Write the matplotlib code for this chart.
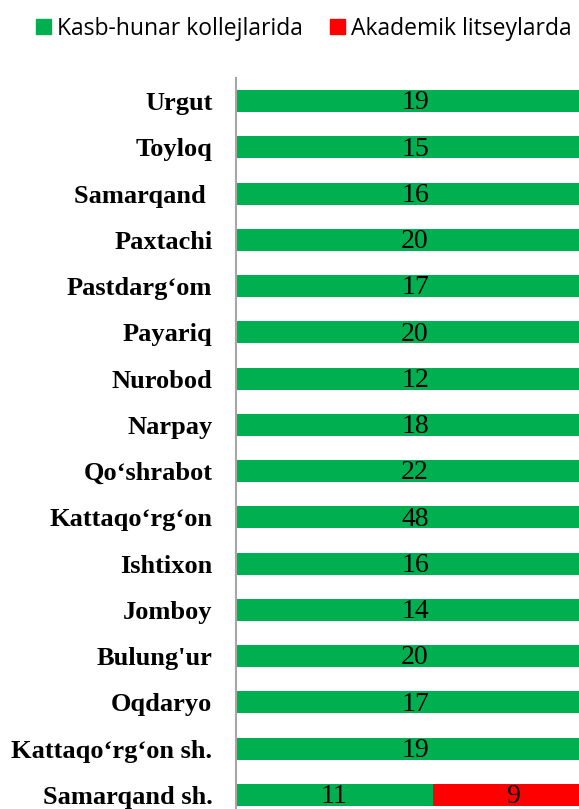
import matplotlib
matplotlib.use("Agg")
import matplotlib.pyplot as plt
from matplotlib.patches import Patch

# Data (top to bottom)
districts = ["Urgut", "Toyloq", "Samarqand ", "Paxtachi", "Pastdarg‘om", "Payariq",
             "Nurobod", "Narpay", "Qo‘shrabot", "Kattaqo‘rg‘on", "Ishtixon", "Jomboy",
             "Bulung'ur", "Oqdaryo", "Kattaqo‘rg‘on sh.", "Samarqand sh."]
kasb_hunar = [19, 15, 16, 20, 17, 20, 12, 18, 22, 48, 16, 14, 20, 17, 19, 11]
akademik = [0, 0, 0, 0, 0, 0, 0, 0, 0, 0, 0, 0, 0, 0, 0, 9]

green = "#00B050"
red = "#FF0000"

totals = [a + b for a, b in zip(kasb_hunar, akademik)]
share_green = [a / t * 100 for a, t in zip(kasb_hunar, totals)]
share_red = [b / t * 100 for b, t in zip(akademik, totals)]

fig = plt.figure(figsize=(5.79, 8.09), dpi=100)
ax = fig.add_axes([236 / 579, -9 / 809, 358 / 579, 740 / 809])

y = list(range(len(districts)))
ax.barh(y, share_green, height=0.48, color=green)
ax.barh(y, share_red, left=share_green, height=0.48, color=red)

for i in y:
    ax.text(share_green[i] / 2, i + 0.04, str(kasb_hunar[i]), ha="center", va="center",
            fontsize=20, family="Liberation Serif", color="black")
    if akademik[i] > 0:
        ax.text(share_green[i] + share_red[i] / 2, i + 0.04, str(akademik[i]), ha="center",
                va="center", fontsize=20, family="Liberation Serif", color="black")

ax.set_xlim(0, 100)
ax.set_ylim(len(districts) - 0.5, -0.5)
ax.set_yticks(y)
ax.set_yticklabels(districts, family="Liberation Serif", fontweight="bold", fontsize=19)
ax.tick_params(axis="y", length=0, pad=17)
ax.set_xticks([])
for s in ["top", "right", "bottom"]:
    ax.spines[s].set_visible(False)
ax.spines["left"].set_color("#A6A6A6")
ax.spines["left"].set_linewidth(1.5)

handles = [Patch(color=green, label="Kasb-hunar kollejlarida"),
           Patch(color=red, label="Akademik litseylarda")]
fig.legend(handles=handles, loc="upper left", bbox_to_anchor=(15 / 579, 1.005), ncol=2,
           frameon=False, prop={"family": "Open Sans", "size": 16.5},
           handlelength=0.65, handleheight=0.65, handletextpad=0.3, columnspacing=1.15)

fig.savefig("out.png", dpi=100)
